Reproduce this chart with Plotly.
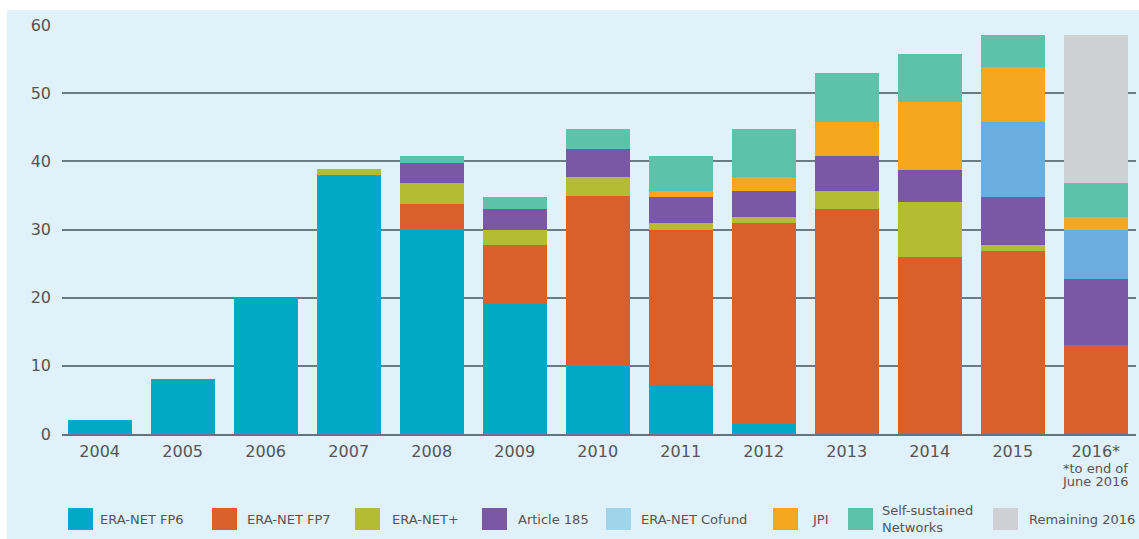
import plotly.graph_objects as go

years = ["2004", "2005", "2006", "2007", "2008", "2009", "2010", "2011", "2012", "2013", "2014", "2015", "2016*"]

era_net_fp6 = [2, 8, 20, 38, 30, 19, 10, 7, 1.5, 0, 0, 0, 0]
era_net_fp7 = [0, 0, 0, 0, 3.8, 8.8, 24.9, 23, 29.4, 33, 26, 26.8, 13]
era_net_plus = [0, 0, 0, 0.9, 3, 2.1, 2.8, 1, 0.9, 2.7, 8, 0.9, 0]
article_185 = [0, 0, 0, 0, 2.9, 3.1, 4.1, 3.8, 3.9, 5.1, 4.7, 7.1, 9.8]
era_net_cofund = [0, 0, 0, 0, 0, 0, 0, 0, 0, 0, 0, 10.9, 7.1]
jpi = [0, 0, 0, 0, 0, 0, 0, 0.9, 2, 4.9, 10, 8.2, 2]
self_sustained = [0, 0, 0, 0, 1.1, 1.8, 2.9, 5.1, 7, 7.2, 7, 4.6, 4.9]
remaining_2016 = [0, 0, 0, 0, 0, 0, 0, 0, 0, 0, 0, 0, 21.7]

series_names = ["ERA-NET FP6", "ERA-NET FP7", "ERA-NET+", "Article 185",
                "ERA-NET Cofund", "JPI", "Self-sustained<br>Networks", "Remaining 2016"]
series_values = [era_net_fp6, era_net_fp7, era_net_plus, article_185,
                 era_net_cofund, jpi, self_sustained, remaining_2016]
bar_colors = ["#02a9c7", "#d9602a", "#b4bc33", "#7a58a6", "#6aaee0", "#f7a71e", "#5ec2ab", "#cfd0d4"]
legend_colors = ["#02a9c7", "#d9602a", "#b4bc33", "#7a58a6", "#9fd4ea", "#f7a71e", "#5ec2ab", "#cfd0d4"]

W, H = 1139, 539
L, R, T, B = 62, 3, 25, 105
PW, PH = W - L - R, H - T - B

def px_x(px):
    return (px - L) / PW

def px_y(py):
    return (H - B - py) / PH

fig = go.Figure()
for name, vals, col in zip(series_names, series_values, bar_colors):
    fig.add_trace(go.Bar(
        x=years, y=[v if v else None for v in vals], name=name.replace("<br>", " "),
        marker=dict(color=col, line=dict(width=0)), showlegend=False,
    ))

# background panel
shapes = [dict(type="rect", xref="paper", yref="paper",
               x0=px_x(7), x1=px_x(W + 2), y0=px_y(H + 2), y1=px_y(10),
               fillcolor="#e0f1fa", line=dict(width=0), layer="below")]

annotations = []
# custom legend
swatch_left = [68, 212, 355, 482, 606, 773, 848, 993]
text_left = [98, 245, 390, 516, 639, 810, 880, 1027]
for name, col, sx, tx in zip(series_names, legend_colors, swatch_left, text_left):
    shapes.append(dict(type="rect", xref="paper", yref="paper",
                       x0=px_x(sx), x1=px_x(sx + 25), y0=px_y(530), y1=px_y(508),
                       fillcolor=col, line=dict(width=0)))
    annotations.append(dict(xref="paper", yref="paper", x=px_x(tx), y=px_y(519),
                            xanchor="left", yanchor="middle", text=name, showarrow=False,
                            align="left",
                            font=dict(family="DejaVu Sans", size=13, color="#555555")))

# footnote under 2016*
annotations.append(dict(xref="x", yref="paper", x="2016*", y=px_y(468), text="*to end of",
                        showarrow=False, xanchor="center", yanchor="middle",
                        font=dict(family="DejaVu Sans", size=13, color="#555555")))
annotations.append(dict(xref="x", yref="paper", x="2016*", y=px_y(481), text="June 2016",
                        showarrow=False, xanchor="center", yanchor="middle",
                        font=dict(family="DejaVu Sans", size=13, color="#555555")))

fig.update_layout(
    width=W, height=H,
    margin=dict(l=L, r=R, t=T, b=B),
    barmode="stack", bargap=0.229,
    paper_bgcolor="white", plot_bgcolor="rgba(0,0,0,0)",
    shapes=shapes, annotations=annotations,
    font=dict(family="DejaVu Sans", size=16, color="#555555"),
    xaxis=dict(range=[-0.454, 12.485], showgrid=False, showline=True,
               linecolor="#66737e", linewidth=2, ticks="", ticklabelstandoff=2,
               tickfont=dict(size=16, color="#555555")),
    yaxis=dict(range=[0, 60], dtick=10, showgrid=True, gridcolor="#6c7a86",
               gridwidth=2, zeroline=False, showline=False, ticks="",
               ticklabelstandoff=10, tickfont=dict(size=16, color="#555555")),
)

fig.write_html("out.html")
